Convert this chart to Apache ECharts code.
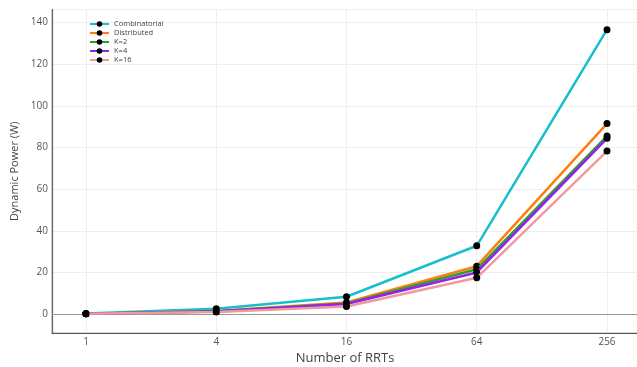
<!DOCTYPE html>
<html>
<head>
<meta charset="utf-8">
<script src="https://cdn.jsdelivr.net/npm/echarts@6/dist/echarts.min.js"></script>
<style>html,body{margin:0;padding:0;background:#fff}#c{width:637px;height:367px}</style>
</head>
<body>
<div id="c"></div>
<script>
const categories = ['1', '4', '16', '64', '256'];
const seriesNames = ['Combinatorial', 'Distributed', 'K=2', 'K=4', 'K=16'];
const combinatorial = [0.3, 2.6, 8.3, 32.8, 136.6];
const distributed = [0.2, 1.5, 5.6, 23.0, 91.5];
const k2 = [0.15, 1.3, 5.1, 21.5, 85.5];
const k4 = [0.15, 1.2, 4.8, 20.0, 84.4];
const k16 = [0.1, 1.0, 3.6, 17.4, 78.3];
const yTicks = [0, 20, 40, 60, 80, 100, 120, 140];

const colors = ['#17becf', '#ff7f0e', '#2ca02c', '#9a1ef2', '#ec9c9c'];
const allValues = [combinatorial, distributed, k2, k4, k16];

const chart = echarts.init(document.getElementById('c'), null, {renderer: 'canvas'});
const font = '"Open Sans", "DejaVu Sans", sans-serif';

const series = seriesNames.map((name, i) => ({
  name,
  type: 'line',
  data: allValues[i].map((v, j) => [j, v]),
  symbol: 'circle',
  symbolSize: 7,
  showSymbol: true,
  lineStyle: {color: colors[i], width: 2.5},
  itemStyle: {color: '#000'},
  emphasis: {disabled: true},
  animation: false,
  z: 2 + i
}));
series[0].markLine = {
  silent: true,
  symbol: 'none',
  label: {show: false},
  lineStyle: {color: '#999', width: 1, type: 'solid'},
  data: [{yAxis: 0}],
  animation: false,
  z: 1
};

chart.setOption({
  animation: false,
  textStyle: {fontFamily: font},
  grid: {
    left: 52, right: -1, top: 9.5, bottom: 34,
    containLabel: false,
    outerBoundsMode: 'none',
    show: true, borderColor: '#aaa', borderWidth: 1, backgroundColor: 'transparent'
  },
  legend: {
    orient: 'vertical',
    left: 89, top: 19.5,
    padding: 0,
    itemWidth: 19, itemHeight: 7, itemGap: 0,
    textStyle: {fontSize: 7.5, color: '#444', lineHeight: 9, fontFamily: font},
    data: seriesNames
  },
  xAxis: {
    type: 'value',
    min: -0.261, max: 4.238,
    splitNumber: 4, minInterval: 1, maxInterval: 1,
    name: 'Number of RRTs',
    nameLocation: 'middle',
    nameGap: 17,
    nameTextStyle: {fontSize: 13, color: '#444', verticalAlign: 'top', fontFamily: font},
    axisLine: {show: true, onZero: false, lineStyle: {color: '#555', width: 1.2}},
    axisTick: {show: false},
    axisLabel: {
      margin: 4, fontSize: 10, color: '#555', fontFamily: font,
      showMinLabel: true, showMaxLabel: true,
      formatter: v => (Number.isInteger(v) && v >= 0 && v < categories.length) ? categories[v] : ''
    },
    splitLine: {show: true, lineStyle: {color: '#eeeeee', width: 1}}
  },
  yAxis: {
    type: 'value',
    min: -9.1, max: 146.3,
    splitNumber: 7, minInterval: 20, maxInterval: 20,
    name: 'Dynamic Power (W)',
    nameLocation: 'middle',
    nameGap: 29,
    nameRotate: 90,
    nameTextStyle: {fontSize: 11, color: '#444', fontFamily: font},
    axisLine: {show: true, onZero: false, lineStyle: {color: '#666', width: 1.2}},
    axisTick: {show: false},
    axisLabel: {
      margin: 4, fontSize: 10, color: '#555', fontFamily: font,
      formatter: v => yTicks.indexOf(v) >= 0 ? String(v) : ''
    },
    splitLine: {show: true, lineStyle: {color: '#eeeeee', width: 1}}
  },
  series
});
</script>
</body>
</html>
